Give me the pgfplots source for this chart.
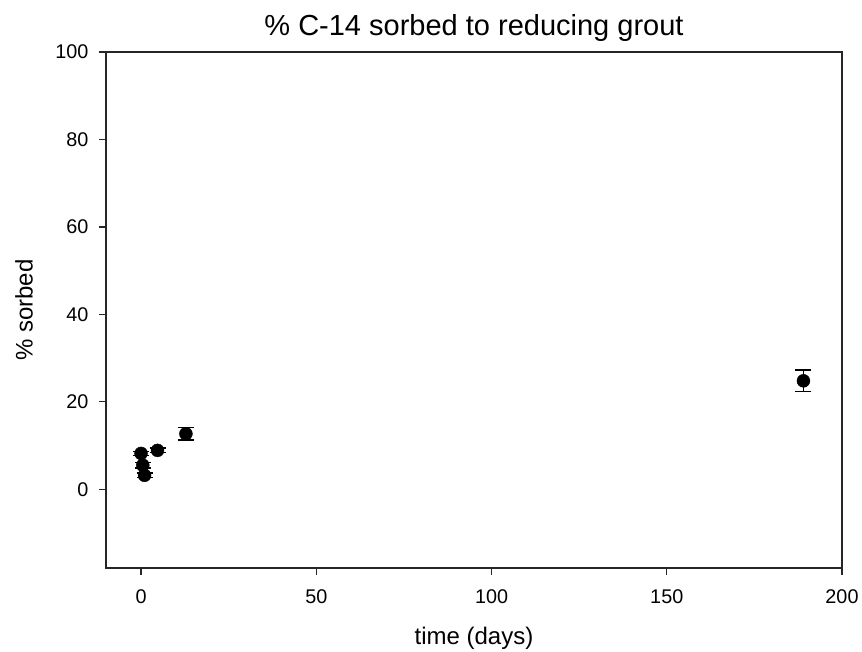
\documentclass[border=0pt]{standalone}
\usepackage{fontspec}
\setmainfont{Liberation Sans}
\usepackage{pgfplots}
\pgfplotsset{compat=1.18}
\begin{document}
\begin{tikzpicture}
\begin{axis}[
  width=736pt, height=516pt, scale only axis,
  xmin=-10, xmax=200, ymin=-18, ymax=100,
  xtick={0,50,...,200}, ytick={0,20,...,100},
  tick align=outside, xtick pos=bottom, ytick pos=left,
  major tick length=7pt,
  axis line style={line width=1.2pt, black!85},
  every tick/.style={line width=1.2pt, black!85},
  /pgf/number format/assume math mode=true,
  ticklabel style={font=\fontsize{19.8}{22}\selectfont},
  xticklabel style={yshift=-11pt},
  yticklabel style={xshift=-7pt},
  title={\% C-14 sorbed to reducing grout},
  title style={font=\fontsize{29}{33}\selectfont, at={(axis description cs:0.5,1.0194)}, anchor=base},
  xlabel={time (days)},
  xlabel style={font=\fontsize{24}{28}\selectfont, at={(axis description cs:0.5,-0.1357)}, anchor=center},
  ylabel={\% sorbed},
  ylabel style={font=\fontsize{24}{28}\selectfont, at={(axis description cs:-0.1114,0.5)}, anchor=center, rotate=0},
]
\addplot[black, draw=none, mark=*, mark size=6.5pt, mark options={fill=black},
  error bars/.cd, y dir=both, y explicit,
  error bar style={line width=1.4pt, draw=black, solid},
  error mark options={rotate=90, mark size=8pt, line width=1.4pt, draw=black}]
  coordinates {
  (0,8.2) +- (0,0.5)
  (0.5,5.5) +- (0,0.6)
  (1,3.2) +- (0,0.5)
  (4.7,8.9) +- (0,0.5)
  (12.8,12.7) +- (0,1.4)
  (189,24.8) +- (0,2.5)
  };
\end{axis}
\pgfresetboundingbox
\useasboundingbox (-106pt,-84pt) rectangle (756pt,568pt);
\end{tikzpicture}
\end{document}
